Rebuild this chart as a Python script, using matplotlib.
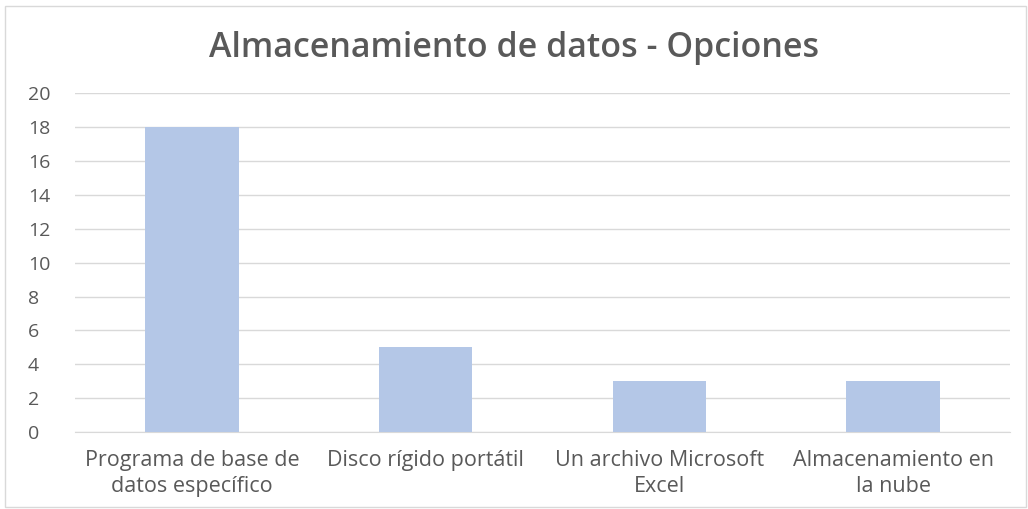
import matplotlib
matplotlib.use("Agg")
import matplotlib.pyplot as plt
from matplotlib.patches import Rectangle

categories = ["Programa de base de\ndatos específico", "Disco rígido portátil",
              "Un archivo Microsoft\nExcel", "Almacenamiento en\nla nube"]
values = [18, 5, 3, 3]
yticks = [0, 2, 4, 6, 8, 10, 12, 14, 16, 18, 20]
title = "Almacenamiento de datos - Opciones"

plt.rcParams['font.family'] = ['Open Sans', 'DejaVu Sans']

fig = plt.figure(figsize=(10.28, 5.09), dpi=100)
ax = fig.add_axes([0.073, 0.151, 0.9095, 0.666])

x = list(range(len(categories)))
ax.bar(x, values, width=0.4, color="#b4c7e7", zorder=3)
ax.set_xlim(-0.5, len(categories) - 0.5)
ax.set_ylim(0, 20)
ax.set_yticks(yticks)
ax.set_xticks(x)
ax.set_xticklabels(categories, fontsize=15.5, color="#595959", linespacing=1.3)
ax.tick_params(axis='y', labelsize=14, labelcolor="#595959", length=0, pad=34)
ax.tick_params(axis='x', length=0, pad=13)
ax.grid(axis='y', color="#d9d9d9", linewidth=1, zorder=0)
for s in ["top", "right", "left"]:
    ax.spines[s].set_visible(False)
ax.spines["bottom"].set_color("#d9d9d9")
for lbl in ax.get_yticklabels():
    lbl.set_horizontalalignment('left')

fig.text(0.5, 0.906, title, ha="center", va="center", fontsize=24.5,
         fontweight="semibold", color="#595959")
fig.patches.append(Rectangle((0.005, 0.004), 0.993, 0.985, transform=fig.transFigure,
                             fill=False, edgecolor="#d9d9d9", linewidth=1))
fig.savefig("out.png", dpi=100)
